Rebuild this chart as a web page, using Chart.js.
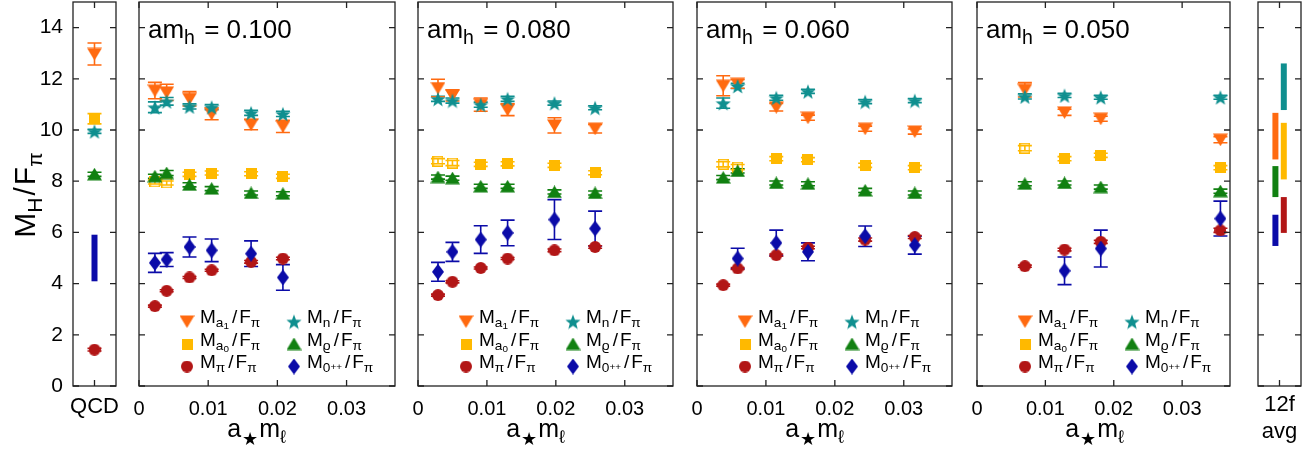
<!DOCTYPE html>
<html>
<head>
<meta charset="utf-8">
<script src="https://cdn.jsdelivr.net/npm/chart.js@4.4.1/dist/chart.umd.min.js"></script>
<style>
  html, body { margin: 0; padding: 0; background: #fff; }
  #wrap { position: relative; width: 1310px; height: 451px; }
  #wrap canvas { position: absolute; left: 0; top: 0; }
</style>
</head>
<body>
<div id="wrap"></div>
<script>
// ---- values: [value, error] ----
const heavyMasses = ['0.100', '0.080', '0.060', '0.050'];
const xTicks = [0, 0.01, 0.02, 0.03];
const yTicks = [0, 2, 4, 6, 8, 10, 12, 14];

// am_h = 0.100
const mlH100 = [0.0023, 0.0040, 0.0073, 0.0105, 0.0162, 0.0208];
const a1H100 = [[11.54, 0.32], [11.47, 0.32], [11.22, 0.28], [10.63, 0.23], [10.21, 0.2], [10.14, 0.24]];
const nH100 = [[10.89, 0.21], [11.12, 0.15], [10.92, 0.1], [10.89, 0.1], [10.67, 0.1], [10.63, 0.1]];
const a0H100 = [[7.97, 0.08], [7.93, 0.08], [8.27, 0.08], [8.32, 0.08], [8.29, 0.08], [8.19, 0.08]];
const rhoH100 = [[8.19, 0.08], [8.32, 0.1], [7.86, 0.08], [7.71, 0.08], [7.54, 0.08], [7.51, 0.08]];
const piH100 = [[3.12, 0.04], [3.72, 0.04], [4.24, 0.04], [4.52, 0.04], [4.85, 0.05], [4.98, 0.05]];
const sigH100 = [[4.81, 0.37], [4.94, 0.27], [5.43, 0.39], [5.30, 0.44], [5.17, 0.5], [4.24, 0.5]];

// am_h = 0.080
const mlH080 = [0.0029, 0.0050, 0.0091, 0.0130, 0.0198, 0.0257];
const a1H080 = [[11.64, 0.34], [11.35, 0.22], [10.99, 0.26], [10.79, 0.23], [10.18, 0.3], [10.05, 0.17]];
const nH080 = [[11.22, 0.1], [11.15, 0.1], [10.99, 0.1], [11.22, 0.1], [11.05, 0.08], [10.87, 0.08]];
const a0H080 = [[8.78, 0.1], [8.71, 0.1], [8.66, 0.08], [8.68, 0.08], [8.62, 0.08], [8.33, 0.08]];
const rhoH080 = [[8.16, 0.08], [8.12, 0.08], [7.80, 0.08], [7.80, 0.08], [7.58, 0.08], [7.54, 0.08]];
const piH080 = [[3.55, 0.04], [4.07, 0.04], [4.61, 0.04], [4.98, 0.04], [5.30, 0.05], [5.43, 0.05]];
const sigH080 = [[4.46, 0.37], [5.24, 0.37], [5.72, 0.54], [5.98, 0.5], [6.5, 0.78], [6.15, 0.68]];

// am_h = 0.060
const mlH060 = [0.0038, 0.0059, 0.0115, 0.0161, 0.0244, 0.0316];
const a1H060 = [[11.73, 0.39], [11.80, 0.17], [10.89, 0.15], [10.48, 0.1], [10.05, 0.1], [9.94, 0.1]];
const nH060 = [[11.05, 0.2], [11.72, 0.1], [11.26, 0.1], [11.51, 0.08], [11.11, 0.08], [11.15, 0.08]];
const a0H060 = [[8.66, 0.1], [8.55, 0.1], [8.88, 0.08], [8.84, 0.08], [8.62, 0.08], [8.53, 0.08]];
const rhoH060 = [[8.14, 0.08], [8.40, 0.08], [7.93, 0.08], [7.90, 0.08], [7.64, 0.08], [7.54, 0.08]];
const piH060 = [[3.94, 0.04], [4.59, 0.04], [5.11, 0.04], [5.41, 0.05], [5.72, 0.06], [5.82, 0.06]];
const sigH060 = [null, [4.98, 0.4], [5.59, 0.5], [5.24, 0.35], [5.85, 0.4], [5.50, 0.35]];

// am_h = 0.050
const mlH050 = [0.0070, 0.0128, 0.0181, 0.0356];
const a1H050 = [[11.57, 0.28], [10.69, 0.12], [10.44, 0.1], [9.62, 0.12]];
const nH050 = [[11.31, 0.1], [11.35, 0.08], [11.28, 0.08], [11.28, 0.08]];
const a0H050 = [[9.29, 0.1], [8.88, 0.08], [9.01, 0.08], [8.53, 0.08]];
const rhoH050 = [[7.90, 0.08], [7.93, 0.08], [7.77, 0.08], [7.61, 0.08]];
const piH050 = [[4.68, 0.04], [5.33, 0.05], [5.63, 0.06], [6.08, 0.08]];
const sigH050 = [null, [4.50, 0.54], [5.37, 0.72], [6.54, 0.68]];

// how many leading a0 points are open symbols in each panel
const a0OpenCount = [2, 2, 2, 1];

// QCD reference
const qcdA1 = [12.97, 0.43];
const qcdA0 = [10.44, 0.2];
const qcdN = [9.95, 0.08];
const qcdRho = [8.27, 0.08];
const qcdPi = [1.42, 0.05];
const qcdSigma = [4.09, 5.91];   // band low, high

// 12f averages (band low, high)
const avgA1 = [8.85, 10.67];
const avgRho = [7.38, 8.59];
const avgSigma = [5.47, 6.69];
const avgN = [10.78, 12.6];
const avgA0 = [8.07, 10.28];
const avgPi = [5.98, 7.38];

// ---- styling ----
const FONT = "'Liberation Sans', 'DejaVu Sans', Arial, sans-serif";
const COL = { a1: '#ff6a10', a0: '#ffb900', n: '#0f8f8f', rho: '#118011', pi: '#b21616', sig: '#0b0ba8' };
Chart.defaults.font.family = FONT;
Chart.defaults.color = '#000';

function makeMarker(shape, color, open) {
  const dims = { down: [15, 13], up: [15, 13], square: [11, 11], circle: [12, 12], star: [16, 16], diamond: [12, 16] };
  const [w, h] = dims[shape];
  const c = document.createElement('canvas');
  c.width = w; c.height = h;
  const g = c.getContext('2d');
  g.fillStyle = color; g.strokeStyle = color; g.lineWidth = 1.5;
  g.beginPath();
  if (shape === 'down') { g.moveTo(0, 0.5); g.lineTo(w, 0.5); g.lineTo(w / 2, h); }
  else if (shape === 'up') { g.moveTo(w / 2, 0); g.lineTo(w, h - 0.5); g.lineTo(0, h - 0.5); }
  else if (shape === 'square') { if (open) g.rect(0.75, 0.75, w - 1.5, h - 1.5); else g.rect(0, 0, w, h); }
  else if (shape === 'circle') { g.arc(w / 2, h / 2, w / 2, 0, 2 * Math.PI); }
  else if (shape === 'diamond') { g.moveTo(w / 2, 0); g.lineTo(w, h / 2); g.lineTo(w / 2, h); g.lineTo(0, h / 2); }
  else if (shape === 'star') {
    for (let k = 0; k < 10; k++) {
      const r = k % 2 ? w * 0.21 : w / 2;
      const a = -Math.PI / 2 + k * Math.PI / 5;
      g.lineTo(w / 2 + r * Math.cos(a), h / 2 + 1 + r * Math.sin(a));
    }
  }
  g.closePath();
  if (open) g.stroke(); else g.fill();
  return c;
}

const MK = {
  a1: makeMarker('down', COL.a1),
  a0: makeMarker('square', COL.a0),
  a0open: makeMarker('square', COL.a0, true),
  n: makeMarker('star', COL.n),
  rho: makeMarker('up', COL.rho),
  pi: makeMarker('circle', COL.pi),
  sig: makeMarker('diamond', COL.sig)
};

// rich text parts: [text, size scale, baseline shift (em), gap before (px)]
const overF = [['/', 1, 0, 3], ['F', 1, 0, 2], ['π', 0.72, 0.22]];
const LBL = {
  a1: [['M', 1, 0], ['a', 0.72, 0.22], ['1', 0.52, 0.32]].concat(overF),
  a0: [['M', 1, 0], ['a', 0.72, 0.22], ['0', 0.52, 0.32]].concat(overF),
  pi: [['M', 1, 0], ['π', 0.72, 0.22]].concat(overF),
  n: [['M', 1, 0], ['n', 0.72, 0.22]].concat(overF),
  rho: [['M', 1, 0], ['ϱ', 0.72, 0.22]].concat(overF),
  sig: [['M', 1, 0], ['0', 0.72, 0.22], ['++', 0.52, 0.1]].concat(overF)
};
const legendRows = [['a1', 'n'], ['a0', 'rho'], ['pi', 'sig']];

function drawRich(ctx, parts, x, y, size, align) {
  const fontOf = s => `${s}px ${FONT}`;
  let total = 0;
  parts.forEach(p => { ctx.font = fontOf(size * p[1]); total += (p[3] || 0) + ctx.measureText(p[0]).width; });
  let cx = align === 'center' ? x - total / 2 : x;
  ctx.fillStyle = '#000'; ctx.textBaseline = 'alphabetic'; ctx.textAlign = 'left';
  parts.forEach(p => {
    ctx.font = fontOf(size * p[1]);
    cx += p[3] || 0;
    ctx.fillText(p[0], cx, y + p[2] * size);
    cx += ctx.measureText(p[0]).width;
  });
}

const errorBars = {
  id: 'errorBars',
  beforeDatasetsDraw(chart) {
    const { ctx, scales: { x, y } } = chart;
    ctx.save();
    ctx.lineWidth = 1.6;
    chart.data.datasets.forEach(ds => {
      if (!ds.errColor) return;
      ctx.strokeStyle = ds.errColor;
      ds.data.forEach(p => {
        if (p.e == null) return;
        const px = x.getPixelForValue(p.x);
        const top = y.getPixelForValue(p.y + p.e), bot = y.getPixelForValue(p.y - p.e);
        ctx.beginPath();
        ctx.moveTo(px, top); ctx.lineTo(px, bot);
        ctx.moveTo(px - 7, top); ctx.lineTo(px + 7, top);
        ctx.moveTo(px - 7, bot); ctx.lineTo(px + 7, bot);
        ctx.stroke();
      });
    });
    ctx.restore();
  }
};

function makeDecor(cfg) {
  return {
    id: 'decor',
    afterDraw(chart) {
      const { ctx, chartArea: a, scales: { x, y } } = chart;
      ctx.save();
      ctx.strokeStyle = '#222'; ctx.lineWidth = 1.3;
      ctx.strokeRect(a.left, a.top, a.right - a.left, a.bottom - a.top);
      ctx.beginPath();
      yTicks.forEach(v => {
        const py = y.getPixelForValue(v);
        ctx.moveTo(a.left, py); ctx.lineTo(a.left + 6, py);
        ctx.moveTo(a.right, py); ctx.lineTo(a.right - 6, py);
      });
      cfg.xTicks.forEach(v => {
        const px = x.getPixelForValue(v);
        ctx.moveTo(px, a.bottom); ctx.lineTo(px, a.bottom - 6);
        ctx.moveTo(px, a.top); ctx.lineTo(px, a.top + 6);
      });
      ctx.stroke();
      if (cfg.title) drawRich(ctx, cfg.title, a.left + 9, 38, 26, 'left');
      if (cfg.xTitle) drawRich(ctx, [['a', 1, 0], ['★', 0.72, 0.3, 1], ['m', 1, 0, 1], ['ℓ', 0.72, 0.25]], a.left + 117.5, 437, 25, 'center');
      if (cfg.legend) {
        const rowsY = [323, 345.5, 368];
        const cols = [[48, 61], [155, 168]];
        legendRows.forEach((row, r) => {
          row.forEach((key, c) => {
            const m = MK[key];
            ctx.drawImage(m, a.left + cols[c][0] - m.width / 2, rowsY[r] - 1.5 - m.height / 2);
            drawRich(ctx, LBL[key], a.left + cols[c][1], rowsY[r], 19, 'left');
          });
        });
      }
      if (cfg.yTitle) {
        ctx.translate(35, 195);
        ctx.rotate(-Math.PI / 2);
        drawRich(ctx, [['M', 1, 0], ['H', 0.7, 0.22], ['/', 1, 0, 2], ['F', 1, 0, 2], ['π', 0.7, 0.22]], 0, 0, 30, 'center');
      }
      ctx.restore();
    }
  };
}

function pointSet(vals, xs, color, style) {
  const data = [];
  vals.forEach((v, i) => { if (v) data.push({ x: xs[i], y: v[0], e: v[1] }); });
  return { data, pointStyle: style, pointRadius: 6, borderColor: color, backgroundColor: color, errColor: color, clip: false };
}

function bandSet(band, xPos, color) {
  return {
    data: [{ x: xPos, y: band[0] }, { x: xPos, y: band[1] }],
    showLine: true, borderColor: color, borderWidth: 6, borderCapStyle: 'butt',
    pointRadius: 0, clip: false
  };
}

function yScale(show) {
  return {
    type: 'linear', min: 0, max: 15, display: show,
    afterBuildTicks: s => { s.ticks = yTicks.map(v => ({ value: v })); },
    ticks: { font: { size: 21 }, color: '#000', padding: 10 },
    grid: { display: false, drawTicks: false }, border: { display: false },
    afterFit: s => {
      s.width = show ? 73 : 0;
      s.paddingTop = 0; s.paddingBottom = 0;
    }
  };
}

function xScale(min, max, ticks, label, size, pad) {
  return {
    type: 'linear', min, max,
    afterBuildTicks: s => { s.ticks = ticks.map(v => ({ value: v })); },
    ticks: { callback: label, font: { size }, color: '#000', padding: pad, maxRotation: 0, autoSkip: false },
    grid: { display: false, drawTicks: false }, border: { display: false },
    afterFit: s => {
      s.height = 65;
      s.paddingLeft = 0; s.paddingRight = 0;
    }
  };
}

function addChart(datasets, scales, padding, decor) {
  const cv = document.createElement('canvas');
  cv.width = 1310; cv.height = 451;
  document.getElementById('wrap').appendChild(cv);
  new Chart(cv, {
    type: 'scatter',
    data: { datasets },
    options: {
      responsive: false, animation: false, events: [], devicePixelRatio: 1,
      layout: { padding, autoPadding: false },
      plugins: { legend: { display: false }, tooltip: { enabled: false } },
      scales
    },
    plugins: [errorBars, makeDecor(decor)]
  });
}

// ---- QCD panel ----
addChart([
  bandSet(qcdSigma, 0, COL.sig),
  pointSet([qcdPi], [0], COL.pi, MK.pi),
  pointSet([qcdRho], [0], COL.rho, MK.rho),
  pointSet([qcdA0], [0], COL.a0, MK.a0),
  pointSet([qcdN], [0], COL.n, MK.n),
  pointSet([qcdA1], [0], COL.a1, MK.a1)
], {
  x: xScale(-1, 1, [0], () => 'QCD', 22, 8),
  y: yScale(true)
}, { left: 0, right: 1310 - 116, top: 2, bottom: 0 }, { xTicks: [0], yTitle: true });

// ---- the four am_h panels ----
const panelData = [
  { ml: mlH100, a1: a1H100, a0: a0H100, n: nH100, rho: rhoH100, pi: piH100, sig: sigH100 },
  { ml: mlH080, a1: a1H080, a0: a0H080, n: nH080, rho: rhoH080, pi: piH080, sig: sigH080 },
  { ml: mlH060, a1: a1H060, a0: a0H060, n: nH060, rho: rhoH060, pi: piH060, sig: sigH060 },
  { ml: mlH050, a1: a1H050, a0: a0H050, n: nH050, rho: rhoH050, pi: piH050, sig: sigH050 }
];
const mainBoxes = [[139, 395], [418, 673], [697, 952], [977, 1230]];

panelData.forEach((p, k) => {
  const a0 = pointSet(p.a0, p.ml, COL.a0, null);
  a0.pointStyle = p.a0.map((_, i) => i < a0OpenCount[k] ? MK.a0open : MK.a0);
  addChart([
    pointSet(p.sig, p.ml, COL.sig, MK.sig),
    pointSet(p.pi, p.ml, COL.pi, MK.pi),
    pointSet(p.rho, p.ml, COL.rho, MK.rho),
    a0,
    pointSet(p.n, p.ml, COL.n, MK.n),
    pointSet(p.a1, p.ml, COL.a1, MK.a1)
  ], {
    x: xScale(0, 0.037, xTicks, v => (v === 0 ? '0' : v.toFixed(2)), 20, 11),
    y: yScale(false)
  }, { left: mainBoxes[k][0], right: 1310 - mainBoxes[k][1], top: 2, bottom: 0 }, {
    xTicks,
    title: [['am', 1, 0], ['h', 0.75, 0.24], [' = ' + heavyMasses[k], 1, 0, 2]],
    xTitle: true,
    legend: true
  });
});

// ---- 12f average panel ----
addChart([
  bandSet(avgN, 0.2, COL.n),
  bandSet(avgA0, 0.2, COL.a0),
  bandSet(avgPi, 0.2, COL.pi),
  bandSet(avgA1, -0.19, COL.a1),
  bandSet(avgRho, -0.19, COL.rho),
  bandSet(avgSigma, -0.19, COL.sig)
], {
  x: xScale(-1, 1, [0], () => ['12f', 'avg'], 22, 6),
  y: yScale(false)
}, { left: 1258, right: 1310 - 1301, top: 2, bottom: 0 }, { xTicks: [0] });
</script>
</body>
</html>
